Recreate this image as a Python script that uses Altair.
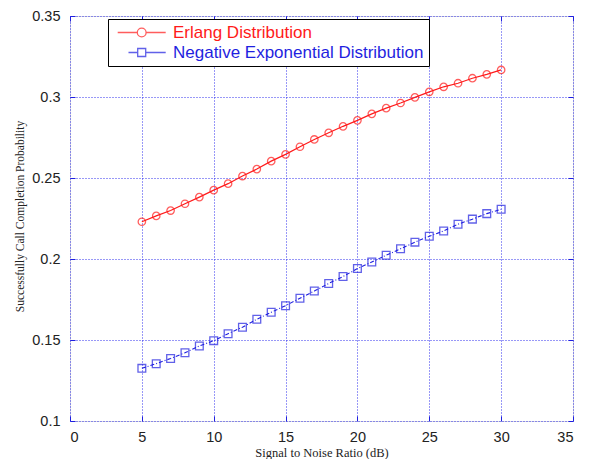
import altair as alt
import pandas as pd

# ---- data ----
snr = list(range(5, 31))
erlang = [0.2230, 0.2266, 0.2299, 0.2341, 0.2382, 0.2425, 0.2465, 0.2512, 0.2555,
          0.2604, 0.2646, 0.2693, 0.2738, 0.2779, 0.2819, 0.2856, 0.2896, 0.2931,
          0.2963, 0.2998, 0.3032, 0.3063, 0.3085, 0.3116, 0.3140, 0.3167]
negexp = [0.1325, 0.1354, 0.1386, 0.1421, 0.1463, 0.1496, 0.1539, 0.1579, 0.1628,
          0.1671, 0.1712, 0.1758, 0.1802, 0.1849, 0.1892, 0.1941, 0.1982, 0.2023,
          0.2063, 0.2104, 0.2140, 0.2173, 0.2215, 0.2246, 0.2280, 0.2307]
series_names = ["Erlang Distribution", "Negative Exponential Distribution"]
x_ticks = [0, 5, 10, 15, 20, 25, 30, 35]
y_ticks = [0.1, 0.15, 0.2, 0.25, 0.3, 0.35]

RED = "#ff1a1a"
BLUE = "#1f1fe0"
GRID = "#3030ee"

df = pd.DataFrame({
    "snr": snr + snr,
    "prob": erlang + negexp,
    "series": [series_names[0]] * len(snr) + [series_names[1]] * len(snr),
})

W, H = 503, 405

xs = alt.Scale(domain=[0, 35], nice=False, zero=False)
ys = alt.Scale(domain=[0.1, 0.35], nice=False, zero=False)

label_font = "Liberation Sans"
title_font = "Liberation Serif"

x_main = alt.Axis(orient="bottom", values=x_ticks, format="d", grid=True, ticks=False,
                  domain=False, labelFont=label_font, labelFontSize=14.5, labelColor="#222222",
                  labelPadding=9, gridColor=GRID, gridDash=[1, 2], gridWidth=1,
                  title="Signal to Noise Ratio (dB)", titleFont=title_font, titleFontSize=12.5,
                  titleFontWeight="normal", titleColor="#222222", titleX=W / 2, titleY=31,
                  titleBaseline="middle", titleAlign="center")
y_main = alt.Axis(orient="left", values=y_ticks, format="~g", grid=True, ticks=False,
                  domain=False, labelFont=label_font, labelFontSize=14.5, labelColor="#222222",
                  labelPadding=10, gridColor=GRID, gridDash=[1, 2], gridWidth=1,
                  title="Successfully Call Completion Probability", titleFont=title_font,
                  titleFontSize=11.5, titleFontWeight="normal", titleColor="#222222",
                  titleX=-50, titleY=200, titleAngle=270, titleAlign="center",
                  titleBaseline="middle")


def tick_axis(orient, vals):
    return alt.Axis(orient=orient, values=vals, grid=False, labels=False, domain=False,
                    ticks=True, tickSize=5, offset=-5, tickColor=BLUE, tickWidth=1,
                    title=None)


base = alt.Chart(df)

red_line = base.transform_filter(alt.datum.series == series_names[0]).mark_line(
    color=RED, strokeWidth=1.2
).encode(x=alt.X("snr:Q", scale=xs, axis=x_main), y=alt.Y("prob:Q", scale=ys, axis=y_main))

red_pts = base.transform_filter(alt.datum.series == series_names[0]).mark_point(
    shape="circle", filled=False, color=RED, size=55, strokeWidth=1.3
).encode(x=alt.X("snr:Q", scale=xs, axis=tick_axis("bottom", x_ticks)),
         y=alt.Y("prob:Q", scale=ys, axis=tick_axis("left", y_ticks)))

blue_line = base.transform_filter(alt.datum.series == series_names[1]).mark_line(
    color=BLUE, strokeWidth=1.1, strokeDash=[4, 2, 1, 2]
).encode(x=alt.X("snr:Q", scale=xs, axis=tick_axis("top", x_ticks)),
         y=alt.Y("prob:Q", scale=ys, axis=tick_axis("right", y_ticks)))

blue_pts = base.transform_filter(alt.datum.series == series_names[1]).mark_point(
    shape="square", filled=False, color=BLUE, size=60, strokeWidth=1.3
).encode(x=alt.X("snr:Q", scale=xs, axis=None), y=alt.Y("prob:Q", scale=ys, axis=None))

# legend symbols: line through marker (unit = 4 px at size 64)
legend_paths = [
    "M-0.95,0L3.95,0M6.15,0L11.05,0M3.95,0A1.1,1.1 0 1,1 6.15,0A1.1,1.1 0 1,1 3.95,0",
    "M1.75,0L4.05,0M6.05,0L11.05,0M4.05,-1L6.05,-1L6.05,1L4.05,1Z",
]
legend_def = alt.Legend(
    orient="none", legendX=38, legendY=3, title=None, padding=5, rowPadding=2,
    strokeColor="black", fillColor="white", labelOffset=43, labelLimit=500,
    labelFont=label_font, labelFontSize=17,
    labelColor={"expr": f"datum.label == '{series_names[0]}' ? '{RED}' : '{BLUE}'"},
    symbolSize=64, symbolStrokeWidth=1.3,
)
legend_layer = base.transform_filter("false").mark_point(
    filled=False, size=64, strokeWidth=1.3
).encode(
    x=alt.X("snr:Q", scale=xs, axis=None),
    y=alt.Y("prob:Q", scale=ys, axis=None),
    color=alt.Color("series:N", scale=alt.Scale(domain=series_names, range=[RED, BLUE]),
                    legend=legend_def),
    shape=alt.Shape("series:N", scale=alt.Scale(domain=series_names, range=legend_paths),
                    legend=legend_def),
)

chart = alt.layer(red_line, red_pts, blue_line, blue_pts, legend_layer).resolve_axis(
    x="independent", y="independent"
).properties(
    width=W, height=H,
    autosize=alt.AutoSizeParams(type="none"),
    padding={"left": 62, "top": 8, "right": 8, "bottom": 38},
).configure_view(stroke=BLUE, strokeWidth=1.4, fill="white").configure(background="white")

chart.save("out.html", embed_options={"renderer": "svg", "actions": False})
